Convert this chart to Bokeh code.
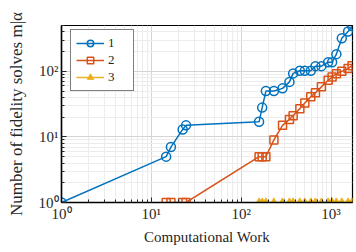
from bokeh.plotting import figure
from bokeh.models import FixedTicker, Legend, LegendItem
from bokeh.embed import file_html
from bokeh.resources import INLINE

# data
work = [14.6, 16.5, 22.3, 24.3, 158, 171, 188, 231, 288, 344, 378, 449, 510,
        594, 670, 780, 927, 1026, 1145, 1315, 1545, 1710]
x1 = [1] + work
y1 = [1, 5, 7, 13, 15, 17, 28, 50, 50, 55, 69, 93, 102, 102, 102, 120, 120,
      138, 138, 183, 320, 404, 490]
x2 = work
y2 = [1, 1, 1, 1, 5, 5, 5, 9, 15, 18.5, 21, 27, 33, 41, 47, 58, 73, 82, 92,
      100, 110, 122]
x3 = work[4:]
y3 = [1] * len(x3)
names = ["1", "2", "3"]
colors = ["#0072BD", "#D95319", "#EDB120"]
xticks = [1, 10, 100, 1000]
yticks = [1, 10, 100]
tick_text = {1: "10\u2070", 10: "10\u00b9", 100: "10\u00b2", 1000: "10\u00b3"}

FONT = "Liberation Serif"

p = figure(frame_width=291, frame_height=177, x_axis_type="log", y_axis_type="log",
           x_range=(1, 1730), y_range=(1, 500),
           output_backend="svg", toolbar_location=None,
           min_border_left=61, min_border_right=2, min_border_top=25,
           min_border_bottom=44)

minor = [m * d for d in [1, 10, 100, 1000] for m in range(2, 10)]
for ax, ticks in ((p.xaxis[0], xticks), (p.yaxis[0], yticks)):
    ax.ticker = FixedTicker(ticks=ticks, minor_ticks=minor)
    ax.major_label_overrides = {t: tick_text[t] for t in ticks}
    ax.major_label_text_font = FONT
    ax.major_label_text_font_size = "15px"
    ax.major_label_text_color = "#262626"
    ax.major_tick_in = 5
    ax.major_tick_out = 0
    ax.minor_tick_in = 3
    ax.minor_tick_out = 0
    ax.axis_line_width = 1.5
    ax.axis_line_color = "black"
    ax.major_tick_line_color = "#262626"
    ax.minor_tick_line_color = "#262626"
    ax.axis_label_text_font = FONT
    ax.axis_label_text_font_style = "normal"
    ax.axis_label_text_font_size = "15px"
    ax.axis_label_text_color = "#262626"
    ax.major_label_standoff = 3

p.xaxis.axis_label = "Computational Work"
p.yaxis.axis_label = "Number of fidelity solves m|\u03b1"
p.yaxis.axis_label_text_font_size = "17px"
p.xaxis.axis_label_standoff = 4
p.yaxis.axis_label_standoff = 10

for g in (p.xgrid[0], p.ygrid[0]):
    g.grid_line_color = "#d4d4d4"
    g.minor_grid_line_color = "#ececec"
    g.grid_line_width = 1
    g.minor_grid_line_width = 1

p.outline_line_color = "black"
p.outline_line_width = 1.2

r1 = p.line(x1, y1, line_color=colors[0], line_width=1.5)
s1 = p.scatter(x1, y1, marker="circle", size=9, line_color=colors[0],
               fill_color=None, line_width=1.5)
r2 = p.line(x2, y2, line_color=colors[1], line_width=1.5)
s2 = p.scatter(x2, y2, marker="square", size=8, line_color=colors[1],
               fill_color=None, line_width=1.5)
r3 = p.line(x3, y3, line_color=colors[2], line_width=1.5)
s3 = p.scatter(x3, y3, marker="triangle", size=8, line_color=colors[2],
               fill_color=colors[2], line_width=1)
items = [LegendItem(label=names[0], renderers=[r1, s1]),
         LegendItem(label=names[1], renderers=[r2, s2]),
         LegendItem(label=names[2], renderers=[r3, s3])]

legend = Legend(items=items, location=(9, 111),
                border_line_color="black", border_line_width=1.5,
                label_text_font=FONT, label_text_font_size="13px",
                label_text_color="#262626",
                glyph_width=28, glyph_height=16, label_height=16,
                spacing=1, padding=5, margin=0, label_standoff=4,
                background_fill_color="white", background_fill_alpha=1)
p.add_layout(legend, "center")

open("out.html", "w").write(file_html(p, INLINE))
